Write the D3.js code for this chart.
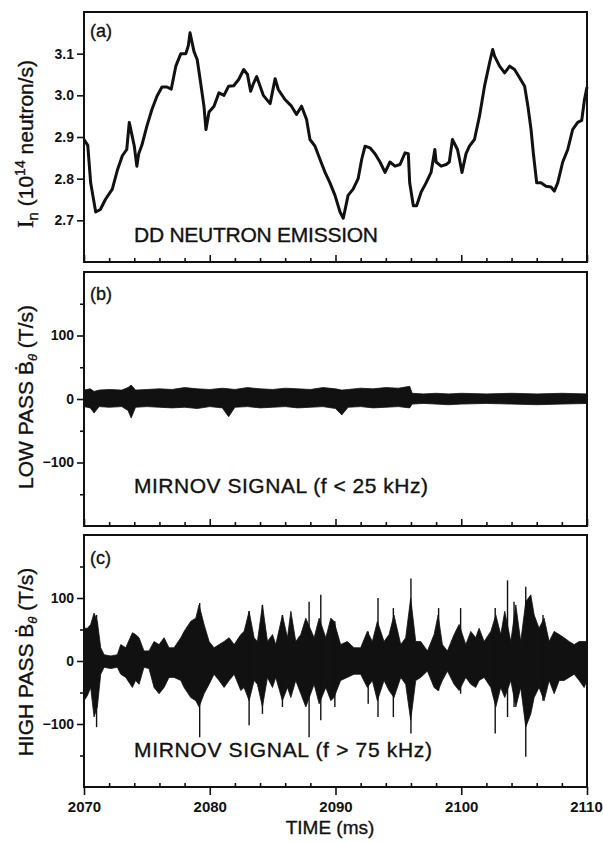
<!DOCTYPE html>
<html>
<head>
<meta charset="utf-8">
<script src="https://cdn.jsdelivr.net/npm/d3@7"></script>
<style>
  html, body { margin: 0; padding: 0; background: #fff; }
  svg { display: block; font-family: "Liberation Sans", Arial, sans-serif; }
</style>
</head>
<body>
<div id="chart"></div>
<script>
// (a) DD neutron emission (ms, 10^14 n/s)
const neutronTime = [2070.0, 2070.3, 2070.53, 2070.93, 2071.3, 2071.7, 2072.25, 2072.65, 2073.05, 2073.4, 2073.6, 2074.0, 2074.2, 2074.35, 2074.6, 2075.0, 2075.4, 2075.8, 2076.2, 2076.6, 2076.94, 2077.3, 2077.7, 2078.1, 2078.3, 2078.43, 2078.75, 2079.0, 2079.2, 2079.54, 2079.7, 2079.94, 2080.34, 2080.73, 2081.13, 2081.5, 2081.9, 2082.3, 2082.7, 2083.0, 2083.25, 2083.5, 2083.73, 2084.26, 2084.8, 2085.2, 2085.45, 2085.98, 2086.5, 2086.9, 2087.3, 2087.7, 2087.97, 2088.37, 2088.77, 2089.17, 2089.56, 2089.96, 2090.36, 2090.62, 2091.0, 2091.4, 2091.8, 2092.08, 2092.35, 2092.74, 2093.14, 2093.54, 2093.94, 2094.33, 2094.73, 2095.13, 2095.53, 2095.79, 2095.9, 2096.19, 2096.45, 2096.8, 2097.2, 2097.6, 2097.9, 2098.0, 2098.4, 2098.8, 2099.05, 2099.3, 2099.7, 2099.84, 2100.06, 2100.38, 2100.65, 2101.05, 2101.45, 2101.85, 2102.25, 2102.5, 2102.65, 2103.05, 2103.45, 2103.85, 2104.24, 2104.64, 2105.04, 2105.3, 2105.55, 2105.73, 2106.0, 2106.34, 2106.74, 2107.14, 2107.4, 2107.67, 2108.07, 2108.47, 2108.86, 2109.26, 2109.58, 2109.8, 2110.0];
const neutronValue = [2.894, 2.88, 2.79, 2.72, 2.726, 2.75, 2.775, 2.82, 2.855, 2.87, 2.935, 2.878, 2.83, 2.86, 2.88, 2.926, 2.966, 2.998, 3.02, 3.02, 3.015, 3.07, 3.10, 3.10, 3.12, 3.15, 3.105, 3.086, 3.046, 2.974, 2.918, 2.96, 2.974, 3.006, 3.0, 3.022, 3.023, 3.038, 3.062, 3.05, 3.01, 3.03, 3.045, 3.0, 2.98, 3.04, 3.014, 2.99, 2.974, 2.954, 2.974, 2.942, 2.894, 2.878, 2.846, 2.815, 2.79, 2.76, 2.72, 2.705, 2.76, 2.775, 2.80, 2.846, 2.878, 2.874, 2.86, 2.84, 2.815, 2.84, 2.83, 2.834, 2.862, 2.86, 2.79, 2.735, 2.735, 2.767, 2.79, 2.815, 2.87, 2.84, 2.83, 2.834, 2.84, 2.894, 2.87, 2.85, 2.815, 2.86, 2.878, 2.894, 2.95, 3.022, 3.078, 3.11, 3.094, 3.07, 3.054, 3.07, 3.062, 3.042, 3.022, 2.974, 2.918, 2.862, 2.79, 2.79, 2.782, 2.78, 2.77, 2.79, 2.84, 2.87, 2.918, 2.935, 2.94, 2.99, 3.02];

// (b) low pass Mirnov signal envelope (T/s)
const lowTime  = [2070, 2070.5, 2070.8, 2071.2, 2072, 2073, 2073.5, 2073.75, 2074.1, 2075, 2076, 2077, 2078, 2079, 2080, 2081, 2081.5, 2082, 2083, 2084, 2085, 2086, 2087, 2088, 2089, 2090, 2090.5, 2091, 2092, 2093, 2094, 2095, 2095.9, 2096.1, 2097, 2098, 2099, 2100, 2102, 2104, 2106, 2108, 2110];
const lowUpper = [14, 16, 12, 14, 15, 14, 18, 22, 14, 15, 16, 15, 18, 16, 15, 17, 16, 15, 18, 16, 15, 17, 16, 15, 18, 16, 14, 15, 17, 16, 18, 17, 20, 9, 8, 9, 8, 9, 8, 9, 8, 9, 8];
const lowLower = [-12, -14, -22, -12, -13, -12, -18, -30, -13, -12, -13, -14, -13, -15, -12, -14, -28, -13, -12, -14, -13, -12, -14, -13, -12, -15, -25, -13, -12, -14, -13, -12, -14, -8, -7, -8, -9, -8, -7, -8, -9, -8, -7];

// (c) high pass Mirnov signal envelope (T/s)
const highTime  = [2070.0, 2070.27, 2070.53, 2070.8, 2071.06, 2071.33, 2071.6, 2072.12, 2072.65, 2072.92, 2073.32, 2073.85, 2074.1, 2074.38, 2074.77, 2075.17, 2075.57, 2075.97, 2076.37, 2076.76, 2077.16, 2077.7, 2077.96, 2078.49, 2078.89, 2079.15, 2079.55, 2079.95, 2080.34, 2080.74, 2081.14, 2081.54, 2081.94, 2082.47, 2082.73, 2083.13, 2083.53, 2083.79, 2084.19, 2084.59, 2084.99, 2085.25, 2085.78, 2086.18, 2086.45, 2086.84, 2087.24, 2087.64, 2088.3, 2088.7, 2089.23, 2089.63, 2089.88, 2090.41, 2090.94, 2091.47, 2092.0, 2092.53, 2092.93, 2093.33, 2093.86, 2094.26, 2094.65, 2095.19, 2095.58, 2095.98, 2096.38, 2096.78, 2097.31, 2097.84, 2098.16, 2098.5, 2098.9, 2099.43, 2099.83, 2100.36, 2100.76, 2101.15, 2101.42, 2101.82, 2102.35, 2102.75, 2103.14, 2103.46, 2103.94, 2104.34, 2104.73, 2105.13, 2105.53, 2105.8, 2106.19, 2106.59, 2106.99, 2107.39, 2107.79, 2108.18, 2108.58, 2108.98, 2109.38, 2109.77, 2110.0];
const highUpper = [52, 52, 58, 76, 63, 21, 10, 8, 10, 26, 21, 45, 42, 37, 16, 16, 31, 26, 37, 21, 21, 37, 47, 63, 68, 89, 58, 31, 21, 26, 31, 37, 26, 42, 47, 79, 37, 31, 89, 31, 42, 26, 73, 37, 79, 31, 42, 68, 37, 68, 37, 68, 63, 26, 31, 21, 21, 47, 31, 63, 31, 42, 73, 26, 37, 100, 31, 31, 16, 42, 73, 26, 16, 42, 58, 26, 47, 37, 52, 31, 47, 73, 42, 79, 31, 89, 31, 94, 105, 73, 52, 68, 31, 47, 42, 37, 31, 26, 31, 31, 31];
const highLower = [-63, -55, -42, -89, -73, -21, -10, -12, -10, -21, -26, -42, -31, -37, -10, -12, -42, -52, -42, -26, -26, -31, -42, -58, -63, -73, -52, -37, -21, -31, -42, -31, -21, -47, -42, -63, -31, -37, -73, -26, -42, -26, -63, -42, -58, -31, -52, -73, -37, -68, -42, -63, -58, -31, -26, -21, -21, -42, -31, -63, -31, -47, -58, -26, -37, -94, -31, -26, -16, -42, -47, -31, -16, -37, -47, -26, -37, -42, -31, -26, -42, -73, -42, -58, -31, -73, -42, -105, -84, -58, -42, -63, -31, -52, -31, -31, -26, -21, -31, -42, -31];

// isolated spikes in (c): time, top, bottom
const spikeTime = [2071.0, 2079.2, 2083.13, 2084.19, 2085.78, 2087.9, 2088.83, 2089.95, 2092.6, 2093.38, 2094.6, 2096.0, 2098.2, 2099.95, 2102.7, 2103.68, 2104.2, 2105.13, 2106.5];
const spikeHigh = [73, 92, 79, 89, 73, 94, 105, 63, 47, 100, 84, 131, 84, 84, 84, 128, 94, 118, 73];
const spikeLow  = [-105, -121, -102, -84, -73, -121, -94, -73, -68, -89, -89, -115, -47, -52, -115, -89, -73, -152, -63];

const neutronTicks = [2.7, 2.8, 2.9, 3.0, 3.1];
const mirnovTicks = [-100, 0, 100];
const mirnovMinor = [-150, -50, 50, 150];
const timeTicks = [2070, 2080, 2090, 2100, 2110];

const width = 603;
const height = 842;

const x = d3.scaleLinear().domain([2070, 2110]).range([84, 587]);
const yA = d3.scaleLinear().domain([2.6, 3.2]).range([262, 12]);
const yB = d3.scaleLinear().domain([-200, 200]).range([526, 272]);
const yC = d3.scaleLinear().domain([-200, 200]).range([787, 535]);

const svg = d3.create("svg")
    .attr("width", width)
    .attr("height", height)
    .attr("viewBox", [0, 0, width, height]);

svg.append("rect")
    .attr("width", width)
    .attr("height", height)
    .attr("fill", "#fff");

const minorTime = d3.range(2072, 2110, 2).filter(t => t % 10 !== 0);

// --- traces ---
const line = d3.line()
    .x((d, i) => x(neutronTime[i]))
    .y(d => yA(d));

svg.append("path")
    .datum(neutronValue)
    .attr("fill", "none")
    .attr("stroke", "#111")
    .attr("stroke-width", 3)
    .attr("stroke-linejoin", "round")
    .attr("d", line);

function envelope(times, upper, lower, y) {
  return d3.area()
      .x((d, i) => x(times[i]))
      .y0((d, i) => y(lower[i]))
      .y1(d => y(d))(upper);
}

svg.append("path")
    .attr("fill", "#111")
    .attr("stroke", "#111")
    .attr("stroke-width", 0.8)
    .attr("d", envelope(lowTime, lowUpper, lowLower, yB));

svg.append("path")
    .attr("fill", "#111")
    .attr("stroke", "#111")
    .attr("stroke-width", 0.8)
    .attr("d", envelope(highTime, highUpper, highLower, yC));

svg.append("g")
  .selectAll("line")
  .data(spikeTime)
  .join("line")
    .attr("x1", d => x(d))
    .attr("x2", d => x(d))
    .attr("y1", (d, i) => yC(spikeHigh[i]))
    .attr("y2", (d, i) => yC(spikeLow[i]))
    .attr("stroke", "#111")
    .attr("stroke-width", 1.4);

// --- frames and axes ---
const panels = [
  {y: yA, ticks: neutronTicks, minor: [], fmt: d3.format(".1f"), last: false},
  {y: yB, ticks: mirnovTicks, minor: mirnovMinor, fmt: d3.format("d"), last: false},
  {y: yC, ticks: mirnovTicks, minor: mirnovMinor, fmt: d3.format("d"), last: true}
];

panels.forEach(p => {
  const [bottom, top] = p.y.range();

  svg.append("rect")
      .attr("x", x(2070))
      .attr("y", top)
      .attr("width", x(2110) - x(2070))
      .attr("height", bottom - top)
      .attr("fill", "none")
      .attr("stroke", "#111")
      .attr("stroke-width", 2);

  const yAxis = svg.append("g")
      .attr("class", "yaxis")
      .attr("transform", `translate(${x(2070)},0)`)
      .call(d3.axisLeft(p.y).tickValues(p.ticks).tickSize(7).tickPadding(3)
        .tickFormat(p.fmt));
  yAxis.select(".domain").remove();

  if (p.minor.length) {
    const m = svg.append("g")
        .attr("transform", `translate(${x(2070)},0)`)
        .call(d3.axisLeft(p.y).tickValues(p.minor).tickSize(4).tickFormat(""));
    m.select(".domain").remove();
  }

  const major = svg.append("g")
      .attr("class", p.last ? "xaxis" : null)
      .attr("transform", `translate(0,${bottom})`)
      .call(d3.axisBottom(x).tickValues(timeTicks).tickSize(p.last ? 8 : -7)
        .tickPadding(6).tickFormat(p.last ? d3.format("d") : ""));
  major.select(".domain").remove();

  const minor = svg.append("g")
      .attr("transform", `translate(0,${bottom})`)
      .call(d3.axisBottom(x).tickValues(minorTime).tickSize(-4).tickFormat(""));
  minor.select(".domain").remove();
});

svg.selectAll(".tick line")
    .attr("stroke", "#111")
    .attr("stroke-width", 1.6);

svg.selectAll(".tick text")
    .attr("fill", "#111")
    .attr("font-family", "'Liberation Sans', Arial, sans-serif")
    .attr("font-weight", "bold")
    .attr("font-size", 14);

svg.selectAll(".xaxis .tick text")
    .attr("font-size", 15)
    .attr("dx", d => d === 2110 ? -1 : 0);

// --- text ---
const text = svg.append("g")
    .attr("fill", "#111")
    .attr("stroke", "#111")
    .attr("stroke-width", 0.35)
    .attr("font-family", "'Liberation Sans', Arial, sans-serif");

[["(a)", 26], ["(b)", 289], ["(c)", 553]].forEach(([t, y]) => {
  text.append("text")
      .attr("x", 90)
      .attr("y", y + 11)
      .attr("font-size", 18)
      .text(t);
});

text.append("text")
    .attr("x", 134)
    .attr("y", 242)
    .attr("font-size", 21)
    .attr("textLength", 244)
    .text("DD NEUTRON EMISSION");

text.append("text")
    .attr("x", 134)
    .attr("y", 493)
    .attr("font-size", 21)
    .attr("textLength", 294)
    .text("MIRNOV SIGNAL (f < 25 kHz)");

text.append("text")
    .attr("x", 134)
    .attr("y", 757)
    .attr("font-size", 21)
    .attr("textLength", 298)
    .text("MIRNOV SIGNAL (f > 75 kHz)");

text.append("text")
    .attr("x", 330)
    .attr("y", 834)
    .attr("text-anchor", "middle")
    .attr("font-size", 19)
    .text("TIME (ms)");

// rotated y labels
const labA = text.append("text")
    .attr("transform", "translate(33,144) rotate(-90)")
    .attr("text-anchor", "middle")
    .attr("font-size", 21);
labA.append("tspan").attr("font-family", "'Liberation Serif', serif").attr("font-size", 23).text("I");
labA.append("tspan").attr("font-size", 15).attr("dy", 5).text("n");
labA.append("tspan").attr("dy", -5).text(" (10");
labA.append("tspan").attr("font-size", 14).attr("dy", -8).text("14");
labA.append("tspan").attr("dy", 8).text(" neutron/s)");

function mirnovLabel(prefix, cy) {
  const t = text.append("text")
      .attr("transform", `translate(33,${cy}) rotate(-90)`)
      .attr("text-anchor", "middle")
      .attr("font-size", 21);
  t.append("tspan").text(prefix + " \u1E02");
  t.append("tspan").attr("font-size", 13).attr("font-style", "italic").attr("dy", 4).text("\u03B8");
  t.append("tspan").attr("dy", -4).text(" (T/s)");
}
mirnovLabel("LOW PASS", 397);
mirnovLabel("HIGH PASS", 662);

document.getElementById("chart").appendChild(svg.node());
</script>
</body>
</html>
